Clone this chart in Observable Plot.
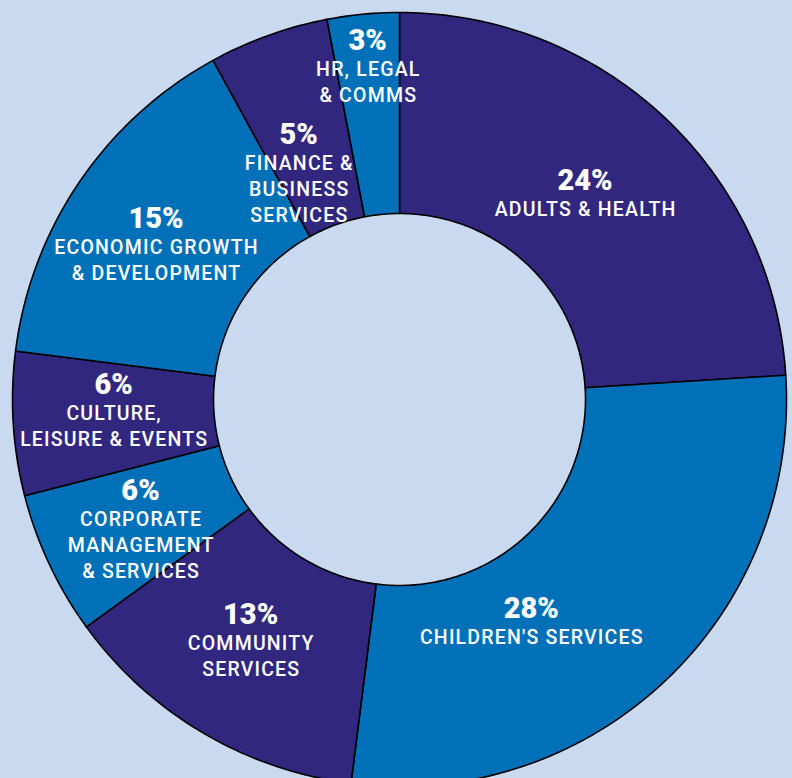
<!DOCTYPE html>
<html>
<head>
<meta charset="utf-8">
<script src="https://cdn.jsdelivr.net/npm/d3@7"></script>
<script src="https://cdn.jsdelivr.net/npm/@observablehq/plot@0.6"></script>
<style>
  html, body { margin: 0; padding: 0; background: #c8d9f0; }
  #chart { width: 792px; height: 778px; overflow: hidden; }
</style>
</head>
<body>
<div id="chart"></div>
<script>
// ---- data ----
const categories = [
  "ADULTS & HEALTH",
  "CHILDREN'S SERVICES",
  "COMMUNITY\nSERVICES",
  "CORPORATE\nMANAGEMENT\n& SERVICES",
  "CULTURE,\nLEISURE & EVENTS",
  "ECONOMIC GROWTH\n& DEVELOPMENT",
  "FINANCE &\nBUSINESS\nSERVICES",
  "HR, LEGAL\n& COMMS"
];
const shares = [24, 28, 13, 6, 6, 15, 5, 3];
const pctLabels = ["24%", "28%", "13%", "6%", "6%", "15%", "5%", "3%"];

// ---- styles / layout ----
const sliceColors = ["#32277f", "#0071b9", "#32277f", "#0071b9", "#32277f", "#0071b9", "#32277f", "#0071b9"];
const W = 792, H = 778;
const CX = 399, CY = 399;           // centre of the ring in pixels
const R_OUT = 387, R_IN = 186;
// label anchor (baseline of the percentage), polar: [degrees clockwise from top, radius]
const labelLayout = [[41.5, 280], [148.9, 255], [213.6, 269], [248.7, 278], [271.2, 286], [305.2, 298], [338.5, 275], [354.8, 351]];
const LINE = 26;

// ---- geometry from data ----
const total = d3.sum(shares);
let acc = 0;
const slices = shares.map((v, i) => {
  const a0 = acc / total * 2 * Math.PI;
  acc += v;
  const a1 = acc / total * 2 * Math.PI;
  return {name: categories[i], a0, a1, i};
});
const polyPts = [];
for (const s of slices) {
  const n = Math.max(8, Math.ceil((s.a1 - s.a0) / (Math.PI / 180)));
  for (let k = 0; k <= n; k++) {
    const a = s.a0 + (s.a1 - s.a0) * k / n;
    polyPts.push({name: s.name, x: R_OUT * Math.sin(a), y: R_OUT * Math.cos(a)});
  }
  for (let k = n; k >= 0; k--) {
    const a = s.a0 + (s.a1 - s.a0) * k / n;
    polyPts.push({name: s.name, x: R_IN * Math.sin(a), y: R_IN * Math.cos(a)});
  }
}

const pctText = [];
const lineText = [];
slices.forEach((s, i) => {
  const [deg, r] = labelLayout[i];
  const a = deg * Math.PI / 180;
  const x = r * Math.sin(a), y = r * Math.cos(a);
  pctText.push({x, y, t: pctLabels[i]});
  categories[i].split("\n").forEach((ln, j) => {
    lineText.push({x, y: y - LINE * (j + 1), t: ln});
  });
});

const chart = Plot.plot({
  width: W,
  height: H,
  margin: 0,
  style: {background: "#c8d9f0", fontFamily: "Roboto, 'Noto Sans', sans-serif"},
  x: {domain: [-CX, W - CX], axis: null},
  y: {domain: [CY - H, CY], axis: null},
  color: {domain: categories, range: sliceColors},
  marks: [
    Plot.line(polyPts, {
      x: "x", y: "y", z: "name", fill: "name",
      stroke: "#000", strokeWidth: 1.6, curve: "linear-closed", strokeLinejoin: "round"
    }),
    Plot.text(pctText, {
      x: "x", y: "y", text: "t", fill: "white", fontSize: 29, fontWeight: 900,
      textAnchor: "middle", lineAnchor: "bottom"
    }),
    Plot.text(lineText, {
      x: "x", y: "y", text: "t", fill: "white", fontSize: 19.5, fontWeight: 500,
      textAnchor: "middle", lineAnchor: "bottom"
    })
  ]
});
const textGroups = chart.querySelectorAll('g[aria-label="text"]');
if (textGroups[1]) {
  textGroups[1].setAttribute("letter-spacing", "1.2");
  textGroups[1].querySelectorAll("text").forEach(t => t.setAttribute("dx", "0.6"));
}
document.getElementById("chart").appendChild(chart);
</script>
</body>
</html>
